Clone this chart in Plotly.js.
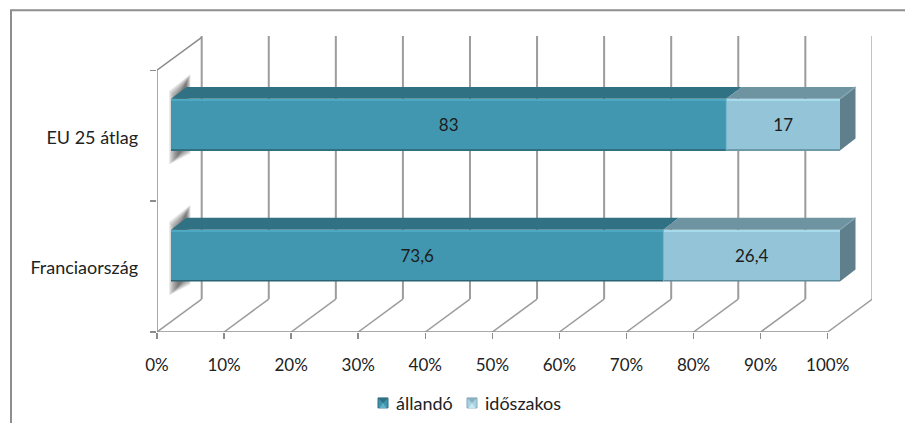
<!DOCTYPE html>
<html><head><meta charset="utf-8">
<script src="https://cdn.plot.ly/plotly-3.0.1.min.js"></script>
<style>html,body{margin:0;padding:0;background:#fff}#c{width:905px;height:423px}</style>
</head><body><div id="c"></div>
<script>
const categories = ['Franciaország', 'EU 25 átlag'];
const allando = [73.6, 83];
const idoszakos = [26.4, 17];
const seriesNames = ['állandó', 'időszakos'];
const xTicks = [0,10,20,30,40,50,60,70,80,90,100];
const xTickLabels = ['0%','10%','20%','30%','40%','50%','60%','70%','80%','90%','100%'];

// plot box in pixels
const L=157, R=872, T=35.7, B=332;
const pxX=6.707, pxY=131;                 // pixels per x unit / per category
const xMax=(R-L)/pxX, yMin=-0.5, yMax=yMin+(B-T)/pxY;
// chart box depth (back wall offset)
const dx=44.7/pxX, dy=33/pxY;
// bars are inset in the box
const barOffsetX=14/6.69, barScale=6.69;
const barShift=11/pxY, barW=0.395;
const barDx=15.5/barScale, barDy=12/pxY;

const gridColor='#9c9c9c';
const axisColor='#8c8c8c';
const c = {
  front:['#4197b0','#93c4d7'],
  top:['#307283','#6e93a1'],
  hi:['#4da8c4','#a6dbec'],
  lo:['#2a6474','#5f8c9b'],
  side:'#5e7f8b'
};
const font='Lato, "Open Sans", sans-serif';
const textSize=18, numSize=17;
const traces=[];
function line(xs,ys,color,width,xa,ya){
  traces.push({type:'scatter',mode:'lines',x:xs,y:ys,xaxis:xa||'x',yaxis:ya||'y',showlegend:false,hoverinfo:'skip',
    cliponaxis:false,line:{color:color||gridColor,width:width||1.6}});
}
function poly(xs,ys,fill,xa,ya){
  traces.push({type:'scatter',mode:'none',x:xs,y:ys,xaxis:xa||'x2',yaxis:ya||'y3',fill:'toself',fillcolor:fill,
    showlegend:false,hoverinfo:'skip',cliponaxis:false});
}
// back wall and floor
xTicks.forEach(v=>{
  line([v+dx,v+dx],[yMin+dy,yMax],gridColor,2);
  line([v,v+dx],[yMin,yMin+dy],gridColor,1.5);
});
line([0,100],[yMin,yMin],axisColor,1.5);
line([0,0,dx],[yMin,yMin+2,yMin+2+dy],axisColor,1.5);

// soft shadow on the left wall behind each bar
categories.forEach((_,i)=>{
  const cy=i+barShift;
  [-1,0,1,2,3,4,5,6,7,8].forEach(g=>{
    const x0=(13+g)/pxX, x1=(33-0.5*g)/pxX;
    const top0=cy+barW/2+(7-0.9*g)/pxY, top1=cy+barW/2+(24-0.9*g)/pxY;
    const bot0=cy-barW/2-(13-0.9*g)/pxY, bot1=cy-barW/2-(2-0.9*g)/pxY;
    poly([x0,x1,x1,x0],[top0,top1,bot1,bot0],'rgba(60,60,60,0.1)','x','y');
  });
});

// stacked bars
[allando,idoszakos].forEach((vals,s)=>{
  traces.push({type:'bar',orientation:'h',name:seriesNames[s],y:categories,x:vals,xaxis:'x2',yaxis:'y2',
    width:barW,offset:barShift-barW/2,marker:{color:c.front[s],line:{width:0}},
    hoverinfo:'x+y',showlegend:false});
});

// 3D faces derived from the same values
categories.forEach((_,i)=>{
  const t=i+barShift+barW/2, b=i+barShift-barW/2;
  let start=0;
  [allando[i],idoszakos[i]].forEach((v,s)=>{
    const e=start+v;
    poly([start,e,e+barDx,start+barDx],[t,t,t+barDy,t+barDy],c.top[s]);
    line([start,e],[t-1.2/pxY,t-1.2/pxY],c.hi[s],2,'x2','y3');
    line([start,e],[b+0.6/pxY,b+0.6/pxY],c.lo[s],1.4,'x2','y3');
    start=e;
  });
  poly([start,start+barDx,start+barDx,start],[t,t+barDy,b+barDy,b],c.side);
  line([start,start+barDx],[t,t+barDy],'#86a4b0',1.5,'x2','y3');
  line([allando[i],allando[i]],[b,t],'#6fb3c9',1,'x2','y3');
});

// value labels, placed from the same stacked values
[allando,idoszakos].forEach((vals,s)=>{
  traces.push({type:'scatter',mode:'text',xaxis:'x2',yaxis:'y3',showlegend:false,hoverinfo:'skip',
    x:vals.map((v,i)=>(s?allando[i]:0)+v/2),
    y:vals.map((_,i)=>i+barShift-2/pxY),
    text:vals.map(v=>String(v).replace('.',',')),textposition:'middle center',
    textfont:{family:font,size:numSize,color:'#1c1c1c'}});
});

// pixel helpers for paper-anchored furniture
const px=p=>(p-L)/(R-L), py=p=>(B-p)/(B-T);
const frame=(x0,y0,x1,y1)=>({type:'line',xref:'paper',yref:'paper',x0:px(x0),x1:px(x1),y0:py(y0),y1:py(y1),line:{color:'#8e8e8e',width:2}});
function swatch(x,fill,edge,dark,light){
  const y=398,s=10;
  const path=pts=>'M'+pts.map(q=>px(q[0])+','+py(q[1])).join('L')+'Z';
  const base={type:'path',xref:'paper',yref:'paper',line:{width:0}};
  return [
    {type:'rect',xref:'paper',yref:'paper',x0:px(x),x1:px(x+s),y0:py(y),y1:py(y+s),fillcolor:fill,line:{color:edge,width:1}},
    Object.assign({},base,{path:path([[x,y],[x+s,y],[x+s/2,y+s/2]]),fillcolor:dark}),
    Object.assign({},base,{path:path([[x+1.5,y+s],[x+s-1.5,y+s],[x+s/2,y+s/2]]),fillcolor:light})
  ];
}
const legendLabels=[[395,seriesNames[0]],[484,seriesNames[1]]].map(([x,t])=>({
  xref:'paper',yref:'paper',x:px(x),y:py(403),xanchor:'left',yanchor:'middle',text:t,showarrow:false,
  font:{family:font,size:textSize,color:'#222'},xshift:-1}));

const layout={
  width:905,height:423,paper_bgcolor:'#fff',plot_bgcolor:'rgba(0,0,0,0)',
  margin:{l:L,r:905-R,t:T,b:423-B,pad:0},
  barmode:'stack',
  font:{family:font,size:textSize,color:'#222'},
  showlegend:false,
  xaxis:{range:[0,xMax],tickmode:'array',tickvals:xTicks,ticktext:xTickLabels,ticks:'outside',ticklen:6,tickcolor:axisColor,tickwidth:1.5,
    showgrid:false,zeroline:false,showline:false,ticklabelstandoff:12,tickfont:{family:font,size:numSize,color:'#222'}},
  xaxis2:{overlaying:'x',range:[-barOffsetX,(R-L-14)/barScale],visible:false,showgrid:false,zeroline:false},
  yaxis:{range:[yMin,yMax],tickmode:'array',tickvals:categories.map((_,i)=>i-0.012),ticktext:categories,ticks:'',showgrid:false,zeroline:false,showline:false,
    ticklabelstandoff:18,tickfont:{family:font,size:textSize,color:'#222'},
    minor:{tickmode:'array',tickvals:[-0.5,0.5,1.5],ticks:'outside',ticklen:6,tickcolor:axisColor,tickwidth:1.5,showgrid:false}},
  yaxis2:{overlaying:'y',type:'category',categoryorder:'array',categoryarray:categories,range:[yMin,yMax],visible:false,showgrid:false},
  yaxis3:{overlaying:'y',range:[yMin,yMax],visible:false,showgrid:false,zeroline:false},
  shapes:[frame(10,10,905,10),frame(11,10,11,423)]
    .concat(swatch(378,'#3f93ab','#2d7083','#2f6f80','#63b2c9'))
    .concat(swatch(467,'#a9d3e3','#84a8b6','#8ab0be','#c6e8f3')),
  annotations:legendLabels
};
Plotly.newPlot('c',traces,layout,{staticPlot:true,displayModeBar:false});
</script></body></html>
